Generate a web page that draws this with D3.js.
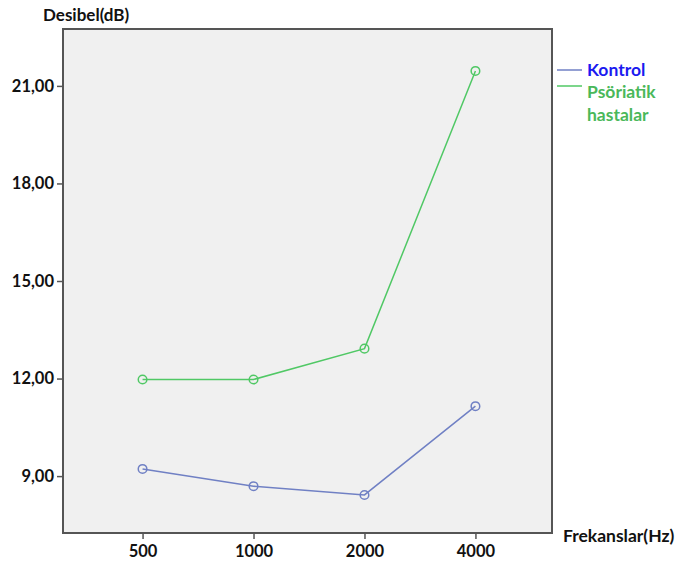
<!DOCTYPE html>
<html><head><meta charset="utf-8">
<script src="https://cdn.jsdelivr.net/npm/d3@7"></script>
<style>body{margin:0;background:#fff;} text{font-family:Lato,"Open Sans",sans-serif;font-weight:bold;}</style>
</head><body>
<svg id="c" width="678" height="564"></svg>
<script>
const categories = ["500","1000","2000","4000"];
const kontrol = [9.22, 8.69, 8.42, 11.15];
const psoriatik = [11.97, 11.97, 12.92, 21.46];
const yTicks = [9, 12, 15, 18, 21];
const seriesNames = ["Kontrol", "Psöriatik hastalar"];

const svg = d3.select("#c");
const L = 63, R = 552, T = 29, B = 533;
const x = d3.scalePoint().domain(categories).range([66, R]).padding(0.69);
const y = d3.scaleLinear().domain([7.25, 22.75]).range([B, T]);

svg.append("rect").attr("x", L).attr("y", T).attr("width", R - L).attr("height", B - T)
  .attr("fill", "#f0f0f0").attr("stroke", "#555").attr("stroke-width", 2);

const fmt = d => d3.format(".2f")(d).replace(".", ",");
const ya = svg.append("g").attr("transform", `translate(${L},0)`)
  .call(d3.axisLeft(y).tickValues(yTicks).tickFormat(fmt).tickSize(6).tickPadding(3));
ya.select(".domain").remove();
ya.selectAll("line").attr("stroke", "#555").attr("stroke-width", 1.5);
ya.selectAll("text").attr("font-size", 16.5).attr("fill", "#111").style("font-family", "Lato,sans-serif").style("font-weight", "bold");

const xa = svg.append("g").attr("transform", `translate(0,${B})`)
  .call(d3.axisBottom(x).tickSize(6).tickPadding(6));
xa.select(".domain").remove();
xa.selectAll("line").attr("stroke", "#555").attr("stroke-width", 1.5);
xa.selectAll("text").attr("font-size", 16.5).attr("fill", "#111").style("font-family", "Lato,sans-serif").style("font-weight", "bold");

svg.append("text").attr("x", 43).attr("y", 21).attr("font-size", 17).attr("fill", "#111").text("Desibel(dB)");
svg.append("text").attr("x", 563).attr("y", 542).attr("font-size", 17.5).attr("fill", "#111").text("Frekanslar(Hz)");

const series = [
  {name: "Kontrol", vals: kontrol, color: "#7080c4"},
  {name: "Psöriatik", vals: psoriatik, color: "#50c865"}
];
const line = d3.line().x((d, i) => x(categories[i])).y(d => y(d));
series.forEach(s => {
  svg.append("path").attr("d", line(s.vals)).attr("fill", "none").attr("stroke", s.color).attr("stroke-width", 1.5);
  svg.selectAll(null).data(s.vals).enter().append("circle")
    .attr("cx", (d, i) => x(categories[i])).attr("cy", d => y(d)).attr("r", 4.3)
    .attr("fill", "none").attr("stroke", s.color).attr("stroke-width", 1.5);
});

// legend
svg.append("line").attr("x1", 557).attr("x2", 582).attr("y1", 70).attr("y2", 70).attr("stroke", "#7080c4").attr("stroke-width", 1.5);
svg.append("text").attr("x", 587).attr("y", 76).attr("font-size", 17.5).attr("fill", "#1a1af0").text(seriesNames[0]);
svg.append("line").attr("x1", 557).attr("x2", 582).attr("y1", 86).attr("y2", 86).attr("stroke", "#50c865").attr("stroke-width", 1.5);
const t2 = svg.append("text").attr("font-size", 17.5).attr("fill", "#4ab85a");
t2.append("tspan").attr("x", 587).attr("y", 98).text("Psöriatik");
t2.append("tspan").attr("x", 587).attr("y", 121).text("hastalar");
</script>
</body></html>
